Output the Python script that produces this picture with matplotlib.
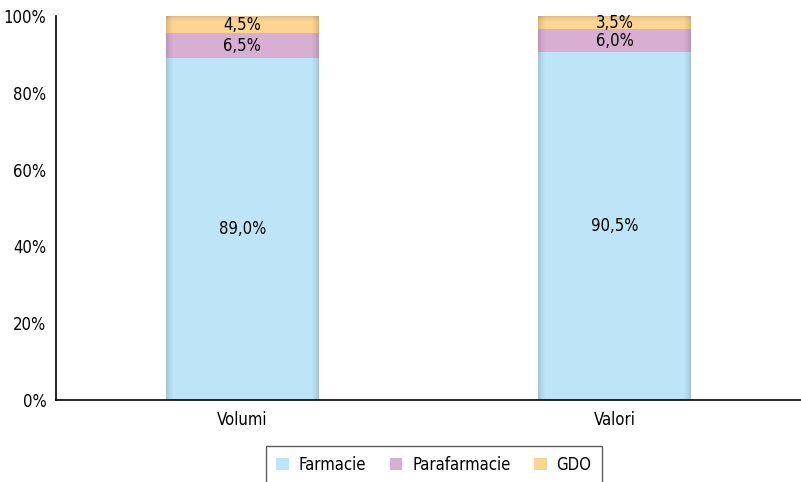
import matplotlib.pyplot as plt
import numpy as np

categories = ["Volumi", "Valori"]
series = ["Farmacie", "Parafarmacie", "GDO"]
farmacie = [89.0, 90.5]
parafarmacie = [6.5, 6.0]
gdo = [4.5, 3.5]
colors = ["#BEE4F8", "#D8AED3", "#FDD592"]
yticks = [0, 20, 40, 60, 80, 100]

plt.rcParams['font.family'] = ['DejaVu Sans']
plt.rcParams['font.stretch'] = 'condensed'

fig = plt.figure(figsize=(8.01, 4.82), dpi=100)
ax = fig.add_axes([56 / 801, 1 - 400 / 482, 1 - 56 / 801, 384 / 482])

x = np.arange(len(categories))
width = 0.41
bottom = np.zeros(len(categories))
for name, vals, col in zip(series, [farmacie, parafarmacie, gdo], colors):
    vals = np.array(vals)
    ax.bar(x, vals, width, bottom=bottom, color=col, label=name, linewidth=0)
    bottom += vals

# soft shading on the bar edges
u = np.linspace(0, 1, 160)
edge = np.clip(1 - np.minimum(u, 1 - u) / 0.05, 0, 1) ** 1.5
shade = np.zeros((1, len(u), 4))
shade[..., 3] = edge * 0.14
for xi, top in zip(x, bottom):
    ax.imshow(shade, extent=(xi - width / 2, xi + width / 2, 0, top),
              aspect="auto", interpolation="bilinear", zorder=2)
    v = np.linspace(0, 1, 60)[:, None]
    topshade = np.zeros((60, 1, 4))
    topshade[..., 3] = (np.clip(1 - v / 0.6, 0, 1) ** 2 * 0.12)
    ax.imshow(topshade, extent=(xi - width / 2, xi + width / 2, top - 3, top),
              aspect="auto", interpolation="bilinear", zorder=2)

bottom = np.zeros(len(categories))
for vals in [farmacie, parafarmacie, gdo]:
    vals = np.array(vals)
    for xi, b, v in zip(x, bottom, vals):
        ax.text(xi, b + v / 2, f"{v:.1f}%".replace(".", ","),
                ha="center", va="center", fontsize=12, color="black", zorder=3)
    bottom += vals

ax.set_xlim(-0.5, 1.5)
ax.set_ylim(0, 100)
ax.set_yticks(yticks)
ax.set_yticklabels([f"{t}%" for t in yticks], fontsize=12)
ax.set_xticks(x)
ax.set_xticklabels(categories, fontsize=12)
ax.tick_params(length=0, pad=7)
ax.tick_params(axis="x", pad=8)
for s in ["top", "right"]:
    ax.spines[s].set_visible(False)
ax.spines["left"].set_linewidth(1.2)
ax.spines["bottom"].set_linewidth(1.2)

leg = fig.legend(loc="upper center", bbox_to_anchor=(434 / 801, 1 - 446 / 482),
                 ncol=3, fontsize=12, frameon=True, fancybox=False,
                 handlelength=0.75, handleheight=0.75, handletextpad=0.6,
                 columnspacing=1.4, borderpad=0.6, borderaxespad=0)
leg.get_frame().set_edgecolor("#333333")
leg.get_frame().set_linewidth(1.0)

fig.savefig("out.png", dpi=100)
